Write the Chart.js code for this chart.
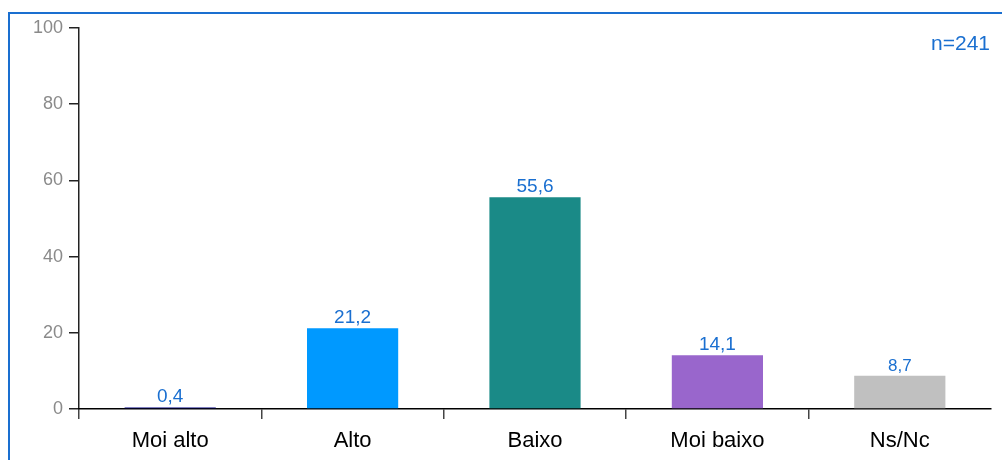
<!DOCTYPE html>
<html lang="gl">
<head>
  <meta charset="UTF-8" />
  <title>Valoración</title>
  <script src="https://cdn.jsdelivr.net/npm/chart.js"></script>
  <style>
    html,body{margin:0;padding:0;background:#fff;}
    body{width:1002px;height:460px;position:relative;overflow:hidden;font-family:"Liberation Sans",Arial,sans-serif;}
    .frame{position:absolute;left:8px;top:12px;width:1020px;height:480px;border:2px solid #1a6fd0;box-sizing:border-box;}
    .n{position:absolute;right:12px;top:31px;font-size:21px;color:#1a6fd0;}
    #wrap{position:absolute;left:0;top:0;width:1002px;height:460px;}
  </style>
</head>
<body>
  <div class="frame"></div>
  <div id="wrap"><canvas id="chart"></canvas></div>
  <div class="n">n=241</div>

<script>
// ── data ────────────────────────────────────────────────────────────────
const categories = ['Moi alto', 'Alto', 'Baixo', 'Moi baixo', 'Ns/Nc'];
const values     = [0.4, 21.2, 55.6, 14.1, 8.7];
const barColors  = ['#000080', '#0099ff', '#1a8a87', '#9966cc', '#c0c0c0'];
const yTicks     = [0, 20, 40, 60, 80, 100];

const FONT = '"Liberation Sans", Arial, sans-serif';

// value labels above bars, decimal comma
const valueLabels = {
  id: 'valueLabels',
  afterDatasetsDraw(chart){
    const {ctx} = chart;
    const meta = chart.getDatasetMeta(0);
    ctx.save();
    ctx.fillStyle = '#1a6fd0';
    ctx.textAlign = 'center';
    ctx.textBaseline = 'bottom';
    meta.data.forEach((bar, i) => {
      const size = values[i] < 10 && values[i] > 1 ? 17 : 19;
      ctx.font = size + 'px ' + FONT;
      ctx.fillText(values[i].toFixed(1).replace('.', ','), bar.x, bar.y - 1);
    });
    ctx.restore();
  }
};

new Chart(document.getElementById('chart'), {
  type: 'bar',
  data: {
    labels: categories,
    datasets: [{ data: values, backgroundColor: barColors, barPercentage: 0.5, categoryPercentage: 1 }]
  },
  options: {
    responsive: true,
    maintainAspectRatio: false,
    animation: false,
    layout: { padding: { left: 0, right: 11, top: 28, bottom: 0 } },
    plugins: { legend: { display: false }, tooltip: { enabled: false } },
    scales: {
      y: {
        min: 0, max: 100,
        afterBuildTicks: s => { s.ticks = yTicks.map(v => ({ value: v })); },
        afterFit: s => { s.width = 79; },
        border: { color: '#222', width: 1.5 },
        grid: { drawOnChartArea: false, color: '#222', tickLength: 10, lineWidth: 1.5 },
        ticks: { color: '#8a8a8a', padding: 6, font: { size: 18, family: FONT } }
      },
      x: {
        afterFit: s => { s.height = 51; },
        border: { color: '#000', width: 1.5 },
        grid: {
          drawOnChartArea: false, offset: true, tickLength: 10, lineWidth: 1.5,
          // no tick mark after the last category
          color: c => c.type === 'tick' ? '#444' : 'rgba(0,0,0,0)'
        },
        ticks: { color: '#000', padding: 9, font: { size: 22, family: FONT } }
      }
    }
  },
  plugins: [valueLabels]
});
</script>
</body>
</html>
